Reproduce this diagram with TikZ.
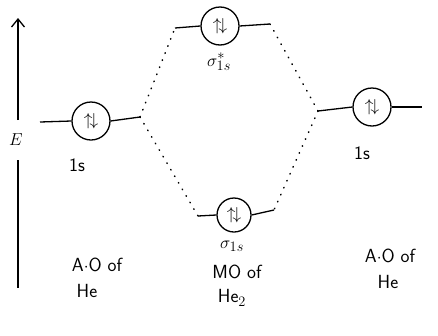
\documentclass[tikz,border=0pt]{standalone}
\usetikzlibrary{arrows.meta}
\begin{document}
\begin{tikzpicture}[x=1pt,y=-1pt,
  orb/.style={draw,line width=1.3pt,circle,inner sep=0pt,minimum size=38pt,font=\fontsize{18}{20}\selectfont},
  sorb/.style={draw,line width=1.3pt,circle,inner sep=0pt,minimum size=34pt,font=\fontsize{16}{18}\selectfont},
  lvl/.style={line width=1.3pt},
  dots/.style={line width=1.5pt,dash pattern=on 0.6pt off 7pt,line cap=round},
  lab/.style={font=\fontsize{19}{21}\selectfont\sffamily,inner sep=0pt}]
\useasboundingbox (0,0) rectangle (438,335);
% energy axis
\coordinate (axtop) at (18,18);
\coordinate (axmid) at (18,120);
\coordinate (axlow) at (18,160);
\coordinate (axbot) at (18,288);
\draw[lvl,-{Straight Barb[length=8pt,width=13pt]}] (axmid) -- (axtop);
\draw[lvl] (axlow) -- (axbot);
\node[lab] (E) at (16,140) {$E$};
% orbitals
\node[orb] (AL) at (91,121) {$\uparrow\!\downarrow$};
\node[orb] (SS) at (220,26) {$\uparrow\!\downarrow$};
\node[orb] (AR) at (372,107) {$\uparrow\!\downarrow$};
\node[sorb] (S) at (234,215) {$\uparrow\!\downarrow$};
% level ends
\coordinate (ALl) at (40,122);
\coordinate (ALr) at (140,117);
\coordinate (SSl) at (175,28);
\coordinate (SSr) at (270,24);
\coordinate (ARl) at (318,111);
\coordinate (ARr) at (422,107);
\coordinate (Sl) at (198,216);
\coordinate (Sr) at (274,210);
\draw[lvl] (ALl) -- (AL.west);
\draw[lvl] (AL.east) -- (ALr);
\draw[lvl] (SSl) -- (SS.west);
\draw[lvl] (SS.east) -- (SSr);
\draw[lvl] (ARl) -- (AR.west);
\draw[lvl] (AR.east) -- (ARr);
\draw[lvl] (Sl) -- (S.west);
\draw[lvl] (S.east) -- (Sr);
% correlation lines
\draw[dots] (ALr) -- (SSl);
\draw[dots] (ALr) -- (Sl);
\draw[dots] (ARl) -- (SSr);
\draw[dots] (ARl) -- (Sr);
% labels
\node[lab] (l1) at (77,165) {1s};
\node[lab] (l2) at (219,62) {$\sigma^{*}_{1s}$};
\node[lab] (l3) at (362,153) {1s};
\node[lab] (l4) at (232,246) {$\sigma_{1s}$};
\node[lab] (l5) at (237,272) {MO of};
\node[lab] (l6) at (232,298) {He$_2$};
\node[lab] (l7) at (97,265) {A$\cdot$O of};
\node[lab] (l8) at (87,291) {He};
\node[lab] (l9) at (390,256) {A$\cdot$O of};
\node[lab] (l10) at (388,282) {He};
\end{tikzpicture}
\end{document}
